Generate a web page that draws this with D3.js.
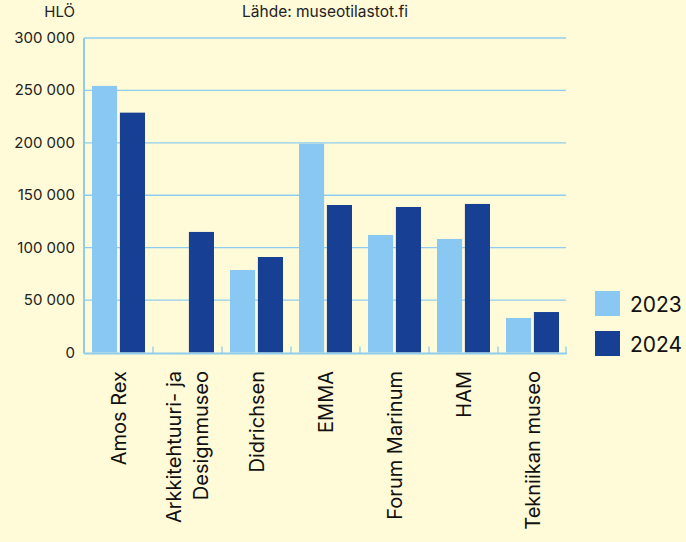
<!DOCTYPE html>
<html>
<head>
<meta charset="utf-8">
<script src="https://cdn.jsdelivr.net/npm/d3@7"></script>
<style>
  body { margin: 0; background: #fffad7; }
  svg { display: block; font-family: Inter, "Noto Sans", sans-serif; }
</style>
</head>
<body>
<div id="chart"></div>
<script>
var museums = ["Amos Rex", "Arkkitehtuuri- ja|Designmuseo", "Didrichsen", "EMMA", "Forum Marinum", "HAM", "Tekniikan museo"];
var years = ["2023", "2024"];
var visitors2023 = [254300, 0, 78700, 199200, 112100, 108300, 32900];
var visitors2024 = [228800, 115000, 91100, 140700, 138800, 141700, 38600];
var yTicks = [0, 50000, 100000, 150000, 200000, 250000, 300000];

var drawChart = function(){

    var bg = "#fffad7";
    var gridColor = "#8fcdf0";
    var colors = {"2023": "#88c8f2", "2024": "#174095"};

    var svg = d3.select("#chart")
        .append("svg")
        .attr("width", 686)
        .attr("height", 542)
        .style("background-color", bg);

    var left = 84, right = 566, top = 38, bottom = 352.5;

    var x = d3.scaleBand()
        .domain(museums)
        .range([left, right + 1]);

    var xInner = d3.scaleBand()
        .domain(years)
        .range([8, x.bandwidth() - 8])
        .paddingInner(0.1);

    var y = d3.scaleLinear()
        .domain([0, 300000])
        .range([bottom, top]);

    var fi = d3.formatLocale({decimal: ",", thousands: " ", grouping: [3], currency: ["", "€"]});
    var fmt = fi.format(",d");

    // grid + y labels
    var yAxis = svg.append("g");
    yAxis.selectAll("line")
        .data(yTicks.slice(1))
        .enter().append("line")
        .attr("x1", left).attr("x2", right)
        .attr("y1", function(d){return y(d);})
        .attr("y2", function(d){return y(d);})
        .attr("stroke", gridColor)
        .attr("stroke-width", 1.3);

    yAxis.selectAll("text")
        .data(yTicks)
        .enter().append("text")
        .attr("x", 75)
        .attr("y", function(d){return y(d) + 5;})
        .attr("text-anchor", "end")
        .attr("font-size", 15)
        .attr("fill", "#222")
        .text(function(d){return fmt(d);});

    // bars
    var data = [];
    museums.forEach(function(m, i){
        data.push({m: m, year: "2023", v: visitors2023[i]});
        data.push({m: m, year: "2024", v: visitors2024[i]});
    });

    svg.append("g").selectAll("rect")
        .data(data)
        .enter().append("rect")
        .attr("x", function(d){return x(d.m) + xInner(d.year);})
        .attr("width", xInner.bandwidth())
        .attr("y", function(d){return y(d.v);})
        .attr("height", function(d){return bottom - y(d.v);})
        .attr("fill", function(d){return colors[d.year];});

    // axes lines
    svg.append("line")
        .attr("x1", left).attr("x2", left)
        .attr("y1", top).attr("y2", bottom + 1)
        .attr("stroke", gridColor).attr("stroke-width", 2);
    svg.append("line")
        .attr("x1", left).attr("x2", right + 1)
        .attr("y1", bottom + 1).attr("y2", bottom + 1)
        .attr("stroke", gridColor).attr("stroke-width", 2);

    // bottom ticks between bands
    svg.append("g").selectAll("line")
        .data(museums.slice(1).concat(["end"]))
        .enter().append("line")
        .attr("x1", function(d){return d === "end" ? right : x(d);})
        .attr("x2", function(d){return d === "end" ? right : x(d);})
        .attr("y1", bottom - 6).attr("y2", bottom + 1)
        .attr("stroke", gridColor).attr("stroke-width", 1.3);

    // category labels (rotated)
    var labels = svg.append("g").selectAll("g")
        .data(museums)
        .enter().append("g")
        .attr("transform", function(d){
            return "translate(" + (x(d) + x.bandwidth() / 2) + ",371) rotate(-90)";
        });

    labels.each(function(d){
        var lines = d.split("|");
        var g = d3.select(this);
        lines.forEach(function(line, i){
            var offset = (i - (lines.length - 1) / 2) * 27;
            g.append("text")
                .attr("x", 0)
                .attr("y", offset + 7)
                .attr("text-anchor", "end")
                .attr("font-size", 20)
                .attr("fill", "#111")
                .text(line);
        });
    });

    // header texts
    svg.append("text")
        .attr("x", 75).attr("y", 17)
        .attr("text-anchor", "end")
        .attr("font-size", 15)
        .attr("fill", "#222")
        .text("HLÖ");
    svg.append("text")
        .attr("x", 325).attr("y", 17)
        .attr("text-anchor", "middle")
        .attr("font-size", 15.5)
        .attr("fill", "#222")
        .text("Lähde: museotilastot.fi");

    // legend
    var legend = svg.append("g").selectAll("g")
        .data(years)
        .enter().append("g")
        .attr("transform", function(d, i){return "translate(595," + (291 + i * 40) + ")";});
    legend.append("rect")
        .attr("width", 25).attr("height", 25)
        .attr("fill", function(d){return colors[d];});
    legend.append("text")
        .attr("x", 35).attr("y", 21)
        .attr("font-size", 21)
        .attr("fill", "#111")
        .text(function(d){return d;});
}

drawChart();
</script>
</body>
</html>
